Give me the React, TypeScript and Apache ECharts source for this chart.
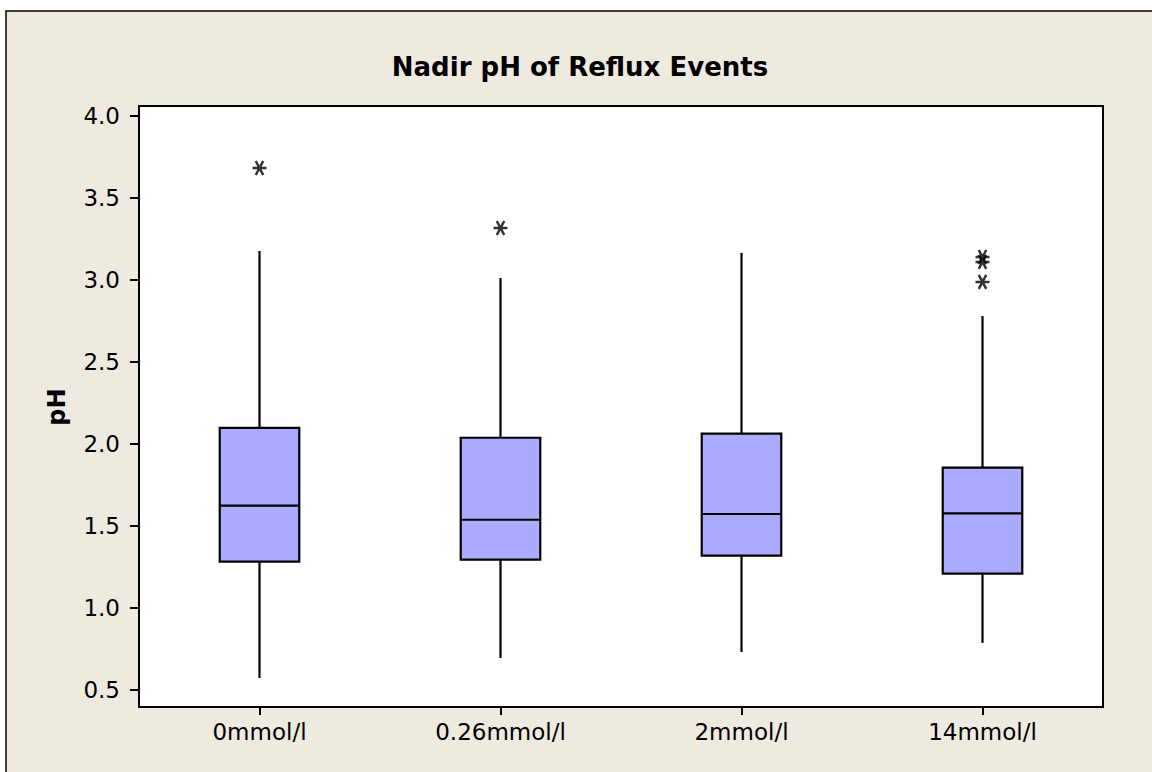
import React, { useEffect, useRef } from "react";
import * as echarts from "echarts";

const categories = ["0mmol/l", "0.26mmol/l", "2mmol/l", "14mmol/l"];
const whiskerLow = [0.573, 0.695, 0.732, 0.787];
const q1 = [1.282, 1.295, 1.319, 1.209];
const median = [1.624, 1.538, 1.573, 1.577];
const q3 = [2.098, 2.038, 2.063, 1.856];
const whiskerHigh = [3.177, 3.012, 3.165, 2.78];
const outlierCategory = [0, 1, 3, 3, 3];
const outlierValue = [3.683, 3.317, 3.14, 3.11, 2.988];
const yTicks = [0.5, 1.0, 1.5, 2.0, 2.5, 3.0, 3.5, 4.0];

const FONT = "DejaVu Sans";
const ASTERISK = "path://M-6,0L6,0M-3.2,-5.5L3.2,5.5M-3.2,5.5L3.2,-5.5";

export default function App() {
  const ref = useRef<HTMLDivElement>(null);
  useEffect(() => {
    if (!ref.current) return;
    const chart = echarts.init(ref.current, undefined, { renderer: "svg" });
    const boxData = categories.map((_, i) => [i, whiskerLow[i], q1[i], median[i], q3[i], whiskerHigh[i]]);
    const outData = outlierCategory.map((c, i) => [c, outlierValue[i]]);
    chart.setOption({
      animation: false,
      backgroundColor: "#ffffff",
      graphic: [
        {
          type: "rect",
          z: -100,
          shape: { x: 6, y: 11, width: 1200, height: 820 },
          style: { fill: "#EEEAE0", stroke: "#000", lineWidth: 1.5 },
        },
        {
          type: "text",
          x: 580,
          y: 67,
          style: {
            text: "Nadir pH of Reflux Events",
            fontFamily: FONT,
            fontWeight: "bold",
            fontSize: 26,
            fill: "#000",
            align: "center",
            verticalAlign: "middle",
          },
        },
        {
          type: "text",
          x: 57,
          y: 407,
          rotation: Math.PI / 2,
          style: {
            text: "pH",
            fontFamily: FONT,
            fontWeight: "bold",
            fontSize: 24,
            fill: "#000",
            align: "center",
            verticalAlign: "middle",
          },
        },
      ],
      grid: {
        left: 139,
        top: 106,
        right: 49,
        bottom: 65,
        show: true,
        backgroundColor: "#ffffff",
        borderColor: "#000",
        borderWidth: 2,
      },
      xAxis: {
        type: "category",
        data: categories,
        boundaryGap: true,
        axisLine: { show: true, lineStyle: { color: "#000", width: 2 } },
        axisTick: { show: true, alignWithLabel: true, length: 8, lineStyle: { color: "#000", width: 2 } },
        axisLabel: { color: "#000", fontFamily: FONT, fontSize: 23, margin: 13 },
        splitLine: { show: false },
      },
      yAxis: {
        type: "value",
        min: 0.396,
        max: 4.061,
        axisLine: { show: true, lineStyle: { color: "#000", width: 2 } },
        axisTick: { show: true, length: 9, customValues: yTicks, lineStyle: { color: "#000", width: 2 } },
        axisLabel: {
          color: "#000",
          fontFamily: FONT,
          fontSize: 23,
          margin: 19,
          customValues: yTicks,
          formatter: (v: number) => v.toFixed(1),
        },
        splitLine: { show: false },
      },
      series: [
        {
          type: "custom",
          data: boxData,
          encode: { x: 0, y: [1, 2, 3, 4, 5] },
          renderItem: (params: any, api: any) => {
            const i = api.value(0);
            const pLo = api.coord([i, api.value(1)]);
            const pQ1 = api.coord([i, api.value(2)]);
            const pMed = api.coord([i, api.value(3)]);
            const pQ3 = api.coord([i, api.value(4)]);
            const pHi = api.coord([i, api.value(5)]);
            const x = pLo[0];
            const bw = api.size([1, 0])[0] * 0.33;
            const ls = { stroke: "#000", lineWidth: 2.2 };
            return {
              type: "group",
              children: [
                { type: "line", shape: { x1: x, y1: pHi[1], x2: x, y2: pQ3[1] }, style: ls },
                { type: "line", shape: { x1: x, y1: pQ1[1], x2: x, y2: pLo[1] }, style: ls },
                {
                  type: "rect",
                  shape: { x: x - bw / 2, y: pQ3[1], width: bw, height: pQ1[1] - pQ3[1] },
                  style: { fill: "#AAAAFF", stroke: "#000", lineWidth: 2.2 },
                },
                { type: "line", shape: { x1: x - bw / 2, y1: pMed[1], x2: x + bw / 2, y2: pMed[1] }, style: ls },
              ],
            };
          },
        },
        {
          type: "scatter",
          data: outData,
          symbol: ASTERISK,
          symbolSize: 14,
          itemStyle: { color: "none", borderColor: "#000", borderWidth: 2.5 },
        },
      ],
    });
    return () => chart.dispose();
  }, []);
  return (
    <div
      ref={ref}
      style={{ position: "absolute", left: 0, top: 0, width: 1152, height: 772 }}
    />
  );
}
